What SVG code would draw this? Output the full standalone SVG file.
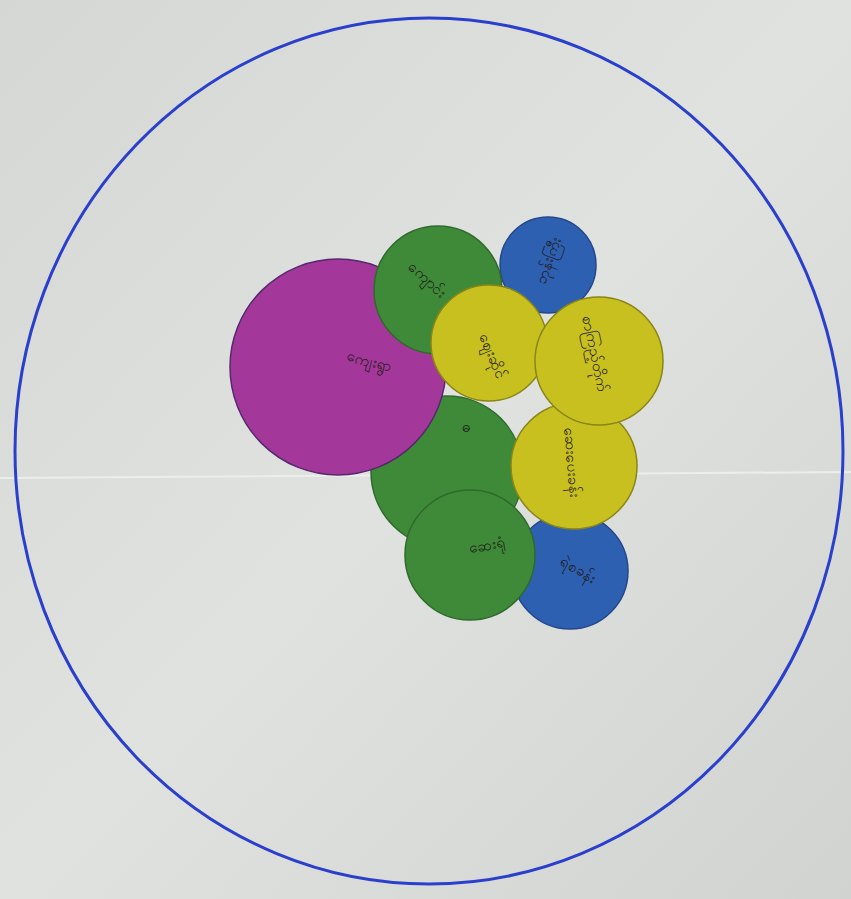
<svg xmlns="http://www.w3.org/2000/svg" width="851" height="899" viewBox="0 0 851 899">
<defs>
<linearGradient id="bg" x1="0" y1="0" x2="1" y2="1">
<stop offset="0" stop-color="#d4d7d4"/>
<stop offset="0.5" stop-color="#e0e2e0"/>
<stop offset="1" stop-color="#d0d3d0"/>
</linearGradient>
</defs>
<style>
.c{stroke-width:1.5}
.g{fill:#3f8a38;stroke:#2f6a2c}
.b{fill:#2e60b2;stroke:#24478a}
.y{fill:#c8c01f;stroke:#8a8518}
.m{fill:#a3389a;stroke:#56286e}
.t{font-family:"Noto Sans","DejaVu Sans",sans-serif;font-size:15px;fill:#1e1a18}
</style>
<rect width="851" height="899" fill="url(#bg)"/>
<line x1="0" y1="478" x2="851" y2="472" stroke="#eceeec" stroke-width="2"/>
<ellipse cx="429" cy="451" rx="414" ry="433" fill="none" stroke="#2a3fcc" stroke-width="3"/>
<g id="green-big"><circle class="c g" cx="447" cy="472" r="76"/><text class="t" x="462" y="432" font-size="12">ဓ</text></g>
<g id="magenta"><circle class="c m" cx="338" cy="367" r="108"/><text class="t" transform="translate(368,366) rotate(14)" text-anchor="middle">ကျေးရွာ</text></g>
<g id="blue-top"><circle class="c b" cx="548" cy="265" r="48"/><text class="t" transform="translate(553,262) rotate(-70)" text-anchor="middle" font-size="14">ဘုန်းကြီး</text></g>
<g id="green-top"><circle class="c g" cx="438" cy="290" r="64"/><text class="t" transform="translate(424,283) rotate(42)" text-anchor="middle">ကျောင်း</text></g>
<g id="blue-bottom"><circle class="c b" cx="570" cy="571" r="58"/><text class="t" transform="translate(576,574) rotate(30)" text-anchor="middle">ရဲစခန်း</text></g>
<g id="green-bottom"><circle class="c g" cx="470" cy="555" r="65"/><text class="t" transform="translate(488,550) rotate(-10)" text-anchor="middle">ဆေးရုံ</text></g>
<g id="yellow-3"><circle class="c y" cx="574" cy="466" r="63"/><text class="t" transform="translate(567,463) rotate(85)" text-anchor="middle" font-size="14">ဆေးပေးခန်း</text></g>
<g id="yellow-1"><circle class="c y" cx="489" cy="343" r="58"/><text class="t" transform="translate(488,358) rotate(68)" text-anchor="middle">ဈေးဆိုင်</text></g>
<g id="yellow-2"><circle class="c y" cx="599" cy="361" r="64"/><text class="t" transform="translate(590,355) rotate(78)" text-anchor="middle" font-size="13">စာကြည့်တိုက်</text></g>
</svg>
